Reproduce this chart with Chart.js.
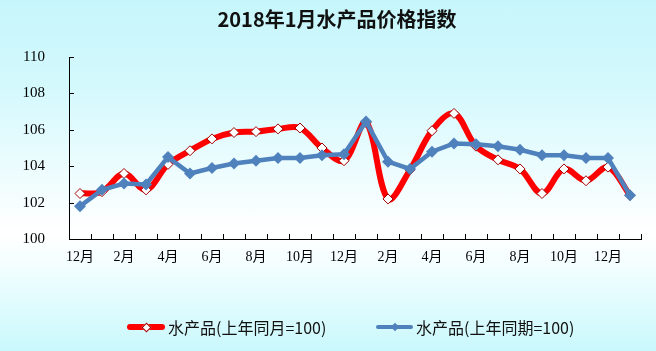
<!DOCTYPE html>
<html>
<head>
<meta charset="utf-8">
<script src="https://cdn.jsdelivr.net/npm/chart.js@4"></script>
<style>
  html, body { margin: 0; padding: 0; }
  #wrap {
    position: relative; width: 656px; height: 351px; overflow: hidden;
    background: linear-gradient(to bottom, #c6f6fb 0%, #d4f9fd 25%, #ffffff 66%, #f4feff 75%, #c9f8fc 100%);
  }
  #c { position: absolute; left: 0; top: 0; }
  #title {
    position: absolute; left: 0; width: 674px; top: 4px; text-align: center; line-height: 28px;
    font: bold 20px "Noto Sans CJK SC", "Liberation Sans", sans-serif; color: #111;
  }
  .leg { position: absolute; top: 317px; height: 20px; font: 16px "Noto Sans CJK SC", sans-serif; color: #111; white-space: nowrap; }
  .leg .ln { position: absolute; top: 8px; border-radius: 3px; }
  .leg .dm { position: absolute; transform: rotate(45deg); }
  .leg .tx { position: absolute; top: 0; line-height: 20px; }
</style>
</head>
<body>
<div id="wrap">
  <canvas id="c" width="656" height="351"></canvas>
  <div id="title">2018年1月水产品价格指数</div>
  <div class="leg" style="left:127px;">
    <div class="ln" style="left:0;width:38px;height:6px;top:7px;background:#ff0000;"></div>
    <div class="dm" style="left:16px;top:7px;width:5px;height:5px;background:#fff;border:1px solid #a00000;"></div>
    <div class="tx" id="leg1" style="left:41px;"></div>
  </div>
  <div class="leg" style="left:376px;">
    <div class="ln" style="left:0;width:37px;height:4px;top:8px;background:#4f81bd;"></div>
    <div class="dm" style="left:16px;top:7px;width:6px;height:6px;background:#4f81bd;"></div>
    <div class="tx" id="leg2" style="left:40px;"></div>
  </div>
</div>
<script>
const categories = ["12月","1月","2月","3月","4月","5月","6月","7月","8月","9月","10月","11月","12月",
                    "1月","2月","3月","4月","5月","6月","7月","8月","9月","10月","11月","12月","1月"];
const seriesNames = ["水产品(上年同月=100)", "水产品(上年同期=100)"];
const sameMonth = [102.5, 102.6, 103.6, 102.7, 104.1, 104.85, 105.5, 105.85, 105.9, 106.05, 106.1, 105.0, 104.3,
                   106.4, 102.2, 103.8, 105.95, 106.9, 105.1, 104.35, 103.85, 102.5, 103.85, 103.2, 103.95, 102.4];
const samePeriod = [101.8, 102.7, 103.05, 103.0, 104.5, 103.6, 103.9, 104.15, 104.3, 104.45, 104.45, 104.6, 104.65,
                    106.45, 104.25, 103.85, 104.8, 105.25, 105.2, 105.1, 104.9, 104.6, 104.6, 104.45, 104.45, 102.4];
const yTicks = [100, 102, 104, 106, 108, 110];

document.getElementById('leg1').textContent = seriesNames[0];
document.getElementById('leg2').textContent = seriesNames[1];

const innerTicks = {
  id: 'innerTicks',
  afterDraw(chart) {
    const ctx = chart.ctx, x = chart.scales.x, y = chart.scales.y;
    const area = chart.chartArea;
    ctx.save();
    ctx.strokeStyle = '#000';
    ctx.lineWidth = 1;
    ctx.beginPath();
    const step = x.getPixelForValue(1) - x.getPixelForValue(0);
    for (let i = 0; i <= categories.length; i++) {
      const px = Math.round(x.getPixelForValue(i) - step / 2) + 0.5;
      ctx.moveTo(px, area.bottom);
      ctx.lineTo(px, area.bottom - 5);
    }
    y.ticks.forEach(t => {
      const py = Math.round(y.getPixelForValue(t.value)) + 0.5;
      ctx.moveTo(area.left, py);
      ctx.lineTo(area.left + 5, py);
    });
    ctx.stroke();
    ctx.restore();
  }
};

new Chart(document.getElementById('c'), {
  type: 'line',
  data: {
    labels: categories,
    datasets: [
      {
        label: seriesNames[0], data: sameMonth, order: 1,
        borderColor: '#ff0000', borderWidth: 6, tension: 0.35,
        pointStyle: 'rectRot', pointRadius: 5, pointBackgroundColor: '#ffffff',
        pointBorderColor: '#a00000', pointBorderWidth: 1, fill: false
      },
      {
        label: seriesNames[1], data: samePeriod, order: 0,
        borderColor: '#4f81bd', borderWidth: 4.5, tension: 0,
        pointStyle: 'rectRot', pointRadius: 6, pointBackgroundColor: '#4f81bd',
        pointBorderColor: '#4f81bd', pointBorderWidth: 0, fill: false
      }
    ]
  },
  options: {
    responsive: false,
    animation: false,
    layout: { padding: { left: 0, top: 57, right: 15, bottom: 82 } },
    plugins: { legend: { display: false }, title: { display: false }, tooltip: { enabled: false } },
    scales: {
      x: {
        type: 'category', offset: true,
        grid: { display: false, drawTicks: false },
        border: { display: true, color: '#000', width: 1 },
        ticks: {
          autoSkip: false, maxRotation: 0, padding: 10, color: '#000',
          font: { family: '"Liberation Serif", "Noto Sans CJK SC"', size: 14 },
          callback: (v, i) => (i % 2 === 0 ? categories[i] : '')
        },
        afterFit: s => { s.height = 30; }
      },
      y: {
        min: 100, max: 110,
        afterBuildTicks: s => { s.ticks = yTicks.map(v => ({ value: v })); },
        grid: { display: false, drawTicks: false },
        border: { display: true, color: '#000', width: 1 },
        ticks: { padding: 24, color: '#000', font: { family: '"Liberation Serif"', size: 15 } },
        afterFit: s => { s.width = 69; }
      }
    }
  },
  plugins: [innerTicks]
});
</script>
</body>
</html>
